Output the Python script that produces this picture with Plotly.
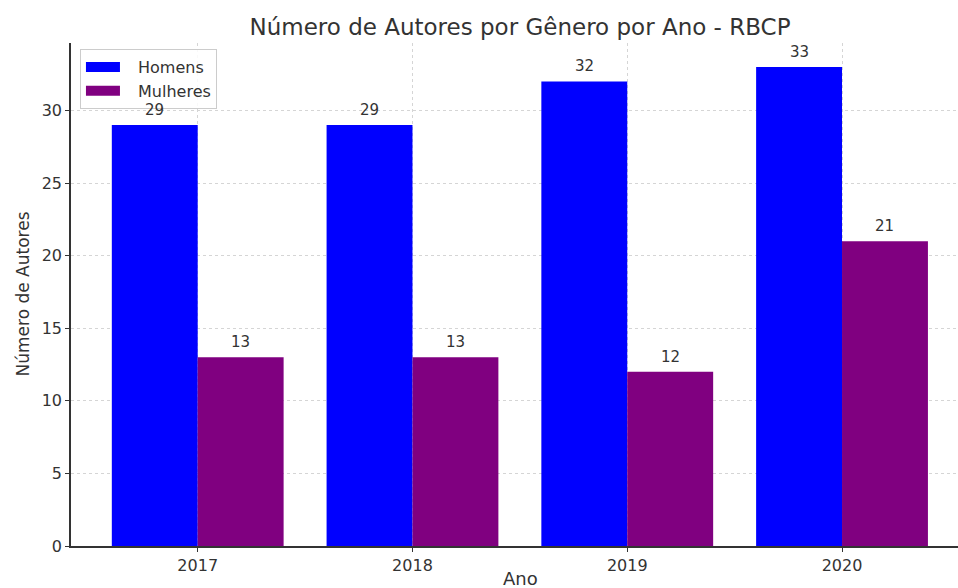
import plotly.graph_objects as go

anos = ["2017", "2018", "2019", "2020"]
homens = [29, 29, 32, 33]
mulheres = [13, 13, 12, 21]
series_nomes = ["Homens", "Mulheres"]

x_pos = list(range(len(anos)))
font_family = "DejaVu Sans"
text_color = "#333333"
cor_h = "#0000ff"
cor_m = "#800080"
gap = "\u2002\u00a0"  # extra space between legend patch and label

fig = go.Figure()
fig.add_trace(go.Bar(x=x_pos, y=homens, name=series_nomes[0], marker=dict(color=cor_h, line=dict(width=0)), showlegend=False))
fig.add_trace(go.Bar(x=x_pos, y=mulheres, name=series_nomes[1], marker=dict(color=cor_m, line=dict(width=0)), showlegend=False))
# legend entries drawn as wide rectangles (matplotlib style)
fig.add_trace(go.Scatter(x=[None], y=[None], mode="lines", name=gap + series_nomes[0], line=dict(color=cor_h, width=10)))
fig.add_trace(go.Scatter(x=[None], y=[None], mode="lines", name=gap + series_nomes[1], line=dict(color=cor_m, width=10)))

annotations = []
for i, (h, m) in enumerate(zip(homens, mulheres)):
    for off, v in ((-0.2, h), (0.2, m)):
        annotations.append(dict(x=i + off, y=v, xref="x", yref="y", text=str(v), showarrow=False,
                                yanchor="bottom", yshift=4, font=dict(size=15, color=text_color, family=font_family)))

annotations.append(dict(x=(520 - 71) / 887, y=-32 / 503, xref="paper", yref="paper", text="Ano", showarrow=False,
                        xanchor="center", yanchor="middle", font=dict(size=18, color=text_color, family=font_family)))
annotations.append(dict(x=-(71 - 22) / 887, y=0.5, xref="paper", yref="paper", text="Número de Autores", showarrow=False,
                        textangle=-90, xanchor="center", yanchor="middle", font=dict(size=17, color=text_color, family=font_family)))

fig.update_layout(
    width=958, height=588,
    margin=dict(l=71, r=0, t=43, b=42),
    paper_bgcolor="white", plot_bgcolor="white",
    barmode="group", bargap=0.2, bargroupgap=0,
    font=dict(family=font_family, color=text_color),
    title=dict(text="Número de Autores por Gênero por Ano - RBCP", x=520 / 958, xref="container", xanchor="center",
               y=1 - 27 / 588, yref="container", yanchor="middle", font=dict(size=23, color=text_color, family=font_family)),
    legend=dict(x=0.0101, y=0.988, xanchor="left", yanchor="top", bgcolor="rgba(255,255,255,0.85)",
                bordercolor="#cccccc", borderwidth=1, font=dict(size=16, color=text_color, family=font_family),
                itemwidth=34),
    annotations=annotations,
    showlegend=True,
)
fig.update_xaxes(range=[-0.59, 3.54], tickmode="array", tickvals=x_pos, ticktext=anos,
                 showgrid=True, gridcolor="#d5d5d5", griddash="3px,3px", gridwidth=1,
                 showline=True, linecolor=text_color, linewidth=1.5, ticks="outside", ticklen=4,
                 tickcolor=text_color, tickfont=dict(size=16, color=text_color), zeroline=False, automargin=False)
fig.update_yaxes(range=[0, 34.65], tickmode="array", tickvals=[0, 5, 10, 15, 20, 25, 30],
                 showgrid=True, gridcolor="#d5d5d5", griddash="3px,3px", gridwidth=1,
                 showline=True, linecolor=text_color, linewidth=1.5, ticks="outside", ticklen=4,
                 tickcolor=text_color, tickfont=dict(size=16, color=text_color), zeroline=False, automargin=False)

fig.write_html("out.html", config={"displayModeBar": False},
               post_script="document.body.style.margin='0';document.body.style.overflow='hidden';")
